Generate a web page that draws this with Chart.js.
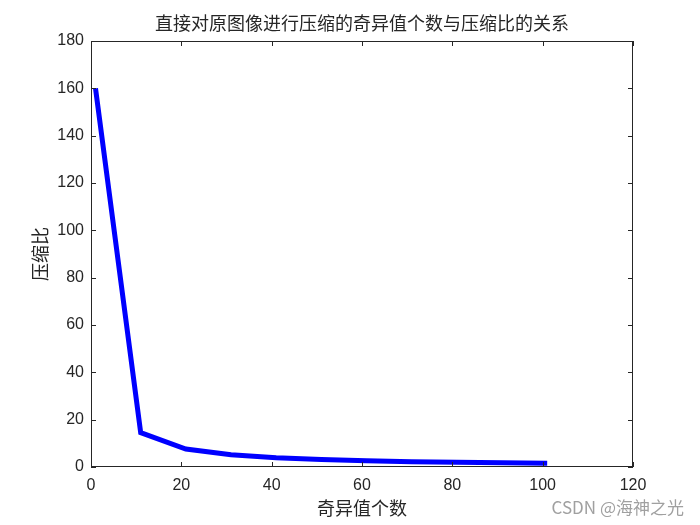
<!DOCTYPE html>
<html>
<head>
<meta charset="utf-8">
<script src="https://cdn.jsdelivr.net/npm/chart.js@4/dist/chart.umd.min.js"></script>
<style>
  html, body { margin: 0; padding: 0; background: #fff; }
  #wrap { width: 700px; height: 525px; }
</style>
</head>
<body>
<div id="wrap"><canvas id="ratioChart" width="700" height="525"></canvas></div>
<script>
// singular value counts and compression ratios
const singularCounts = [1, 11, 21, 31, 41, 51, 61, 71, 81, 91, 101];
const compressionRatios = [160, 14.5, 7.6, 5.15, 3.9, 3.15, 2.6, 2.25, 1.97, 1.76, 1.58];
const xTicks = [0, 20, 40, 60, 80, 100, 120];
const yTicks = [0, 20, 40, 60, 80, 100, 120, 140, 160, 180];

const titleText = '直接对原图像进行压缩的奇异值个数与压缩比的关系';
const xLabel = '奇异值个数';
const yLabel = '压缩比';
const watermark = 'CSDN @海神之光';

const cjkFont = '"Noto Sans CJK SC", "Noto Sans", sans-serif';
const numFont = '"Liberation Sans", Arial, sans-serif';
const textColor = '#262626';

// MATLAB style box with inward ticks on all sides, plus title and watermark
const boxPlugin = {
    id: 'matlabBox',
    afterDraw(chart) {
        const ctx = chart.ctx;
        const area = chart.chartArea;
        const xs = chart.scales.x, ys = chart.scales.y;
        const len = 5;
        ctx.save();
        ctx.strokeStyle = '#262626';
        ctx.lineWidth = 1;
        ctx.strokeRect(area.left + 0.5, area.top + 0.5, area.right - area.left - 1, area.bottom - area.top - 1);
        ctx.beginPath();
        xTicks.forEach(v => {
            const px = Math.round(xs.getPixelForValue(v)) + 0.5;
            ctx.moveTo(px, area.bottom); ctx.lineTo(px, area.bottom - len);
            ctx.moveTo(px, area.top); ctx.lineTo(px, area.top + len);
        });
        yTicks.forEach(v => {
            const py = Math.round(ys.getPixelForValue(v)) + 0.5;
            ctx.moveTo(area.left, py); ctx.lineTo(area.left + len, py);
            ctx.moveTo(area.right, py); ctx.lineTo(area.right - len, py);
        });
        ctx.stroke();

        ctx.fillStyle = textColor;
        ctx.font = '18px ' + cjkFont;
        ctx.textAlign = 'center';
        ctx.textBaseline = 'middle';
        ctx.fillText(titleText, (area.left + area.right) / 2, 23);

        ctx.fillStyle = '#a0a0a0';
        ctx.font = '17px ' + cjkFont;
        ctx.textAlign = 'right';
        ctx.fillText(watermark, 684, 508);
        ctx.restore();
    }
};

new Chart(document.getElementById('ratioChart'), {
    type: 'line',
    data: {
        datasets: [{
            data: singularCounts.map((x, i) => ({ x, y: compressionRatios[i] })),
            borderColor: '#0000ff',
            borderWidth: 5,
            pointRadius: 0,
            tension: 0,
            fill: false
        }]
    },
    options: {
        responsive: false,
        animation: false,
        devicePixelRatio: 1,
        layout: { padding: { left: 0, top: 41, right: 67, bottom: 0 } },
        plugins: {
            legend: { display: false },
            tooltip: { enabled: false }
        },
        scales: {
            x: {
                type: 'linear',
                min: 0,
                max: 120,
                afterFit: s => { s.height = 58; },
                afterBuildTicks: s => { s.ticks = xTicks.map(v => ({ value: v })); },
                grid: { display: false, drawTicks: false },
                border: { display: false },
                ticks: { padding: 9, color: textColor, font: { family: numFont, size: 16 }, maxRotation: 0 },
                title: { display: true, text: xLabel, color: textColor, font: { family: cjkFont, size: 18 }, padding: { top: 6, bottom: 6 } }
            },
            y: {
                type: 'linear',
                min: 0,
                max: 180,
                afterFit: s => { s.width = 91; },
                afterBuildTicks: s => { s.ticks = yTicks.map(v => ({ value: v })); },
                grid: { display: false, drawTicks: false },
                border: { display: false },
                ticks: { padding: 7, color: textColor, font: { family: numFont, size: 16 } },
                title: { display: true, text: yLabel, color: textColor, font: { family: cjkFont, size: 18 }, padding: { top: 29, bottom: 0 } }
            }
        }
    },
    plugins: [boxPlugin]
});
</script>
</body>
</html>
